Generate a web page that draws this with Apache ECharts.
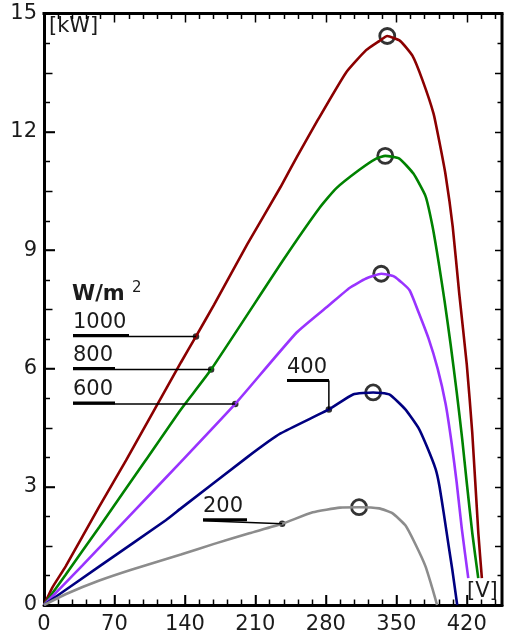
<!DOCTYPE html>
<html><head><meta charset="utf-8">
<script src="https://cdn.jsdelivr.net/npm/echarts@6/dist/echarts.min.js"></script>
<style>html,body{margin:0;padding:0;background:#fff}#c{width:505px;height:635px}</style>
</head><body><div id="c"></div>
<script>
// ---- data ----
const xTickLabels = [0, 70, 140, 210, 280, 350, 420];
const yTickLabels = [0, 3, 6, 9, 12, 15];
const irradiance = ['1000', '800', '600', '400', '200'];

const v1000 = [0, 8, 21.5, 55, 81.5, 136, 151, 169, 202, 235, 251, 272, 300, 320, 333, 341, 354, 366, 376, 387, 392.6, 399, 406, 412.5, 420, 425.5, 431.5, 435];
const p1000 = [0, 0.43, 0.98, 2.5, 3.67, 6.15, 6.81, 7.62, 9.15, 10.6, 11.35, 12.3, 13.5, 14.07, 14.3, 14.43, 14.3, 13.93, 13.31, 12.46, 11.77, 10.9, 9.6, 7.9, 6.1, 4.35, 1.82, 0.68];

const v800 = [0, 21.5, 55, 101, 136, 166, 238, 274, 290, 313, 330, 339, 353, 367, 379, 386, 392, 398, 404, 410, 415.5, 420, 425.5, 431.4];
const p800 = [0, 0.77, 1.98, 3.67, 4.96, 5.97, 8.76, 10.08, 10.56, 11.03, 11.32, 11.39, 11.32, 10.94, 10.37, 9.6, 8.7, 7.7, 6.6, 5.4, 4.2, 3.1, 1.82, 0.68];

const v600 = [0, 38, 87.6, 136, 190, 251, 284, 303.5, 320, 335, 348, 363, 372, 382, 391, 399, 405, 410, 415, 421.5];
const p600 = [0, 1.0, 2.33, 3.63, 5.1, 6.91, 7.62, 8.04, 8.28, 8.4, 8.33, 7.99, 7.43, 6.76, 6.0, 5.1, 4.1, 3.1, 1.95, 0.68];

const v400 = [0, 55, 121, 136, 202, 235, 283, 307, 327, 343, 359, 372, 380.5, 389, 392.6, 397, 402, 405.6, 410.5];
const p400 = [0, 0.98, 2.15, 2.45, 3.75, 4.35, 4.96, 5.34, 5.39, 5.34, 4.96, 4.49, 4.01, 3.45, 3.05, 2.35, 1.5, 0.9, 0];

const v200 = [0, 22, 55, 87.5, 136, 169, 204, 236.6, 267, 294, 313, 333, 346, 359, 369, 379, 385.5, 390.5];
const p200 = [0, 0.28, 0.62, 0.9, 1.28, 1.55, 1.82, 2.06, 2.35, 2.47, 2.48, 2.45, 2.33, 2.02, 1.54, 0.98, 0.45, 0];

const peakV = [341, 339, 335, 327, 313];
const peakP = [14.43, 11.39, 8.4, 5.39, 2.48];

const markV = [151, 166, 190, 283, 236.6];
const markP = [6.81, 5.97, 5.1, 4.96, 2.06];

const xMax = 455, yMax = 15;
const xMajor = 70, xMinor = 14, yMajor = 3, yMid = 1.5, yMinor = 0.75;

// ---- style ----
const colors = ['#8b0000', '#008200', '#9933ff', '#000080', '#8c8c8c'];
const FONT = 'DejaVu Sans';
const TXT = '#1b1b1b';
const gridRect = { left: 44, top: 13.5, width: 458, height: 591.5 };

const chart = echarts.init(document.getElementById('c'));

function pairs(v, p) { return v.map((x, i) => [x, p[i]]); }
const curves = [pairs(v1000, p1000), pairs(v800, p800), pairs(v600, p600), pairs(v400, p400), pairs(v200, p200)];

chart.setOption({
  animation: false,
  backgroundColor: '#fff',
  grid: [{ left: gridRect.left, top: gridRect.top, width: gridRect.width, height: gridRect.height }],
  xAxis: [{ type: 'value', min: 0, max: xMax, interval: xMajor,
    axisLine: { show: true, onZero: false, lineStyle: { color: '#000', width: 3 } },
    axisTick: { show: true, inside: true, length: 10, lineStyle: { color: '#000', width: 1.5 } },
    splitLine: { show: false },
    axisLabel: { margin: 9, color: TXT, fontSize: 21, fontFamily: FONT } }],
  yAxis: [{ type: 'value', min: 0, max: yMax, interval: yMajor,
    axisLine: { show: true, onZero: false, lineStyle: { color: '#000', width: 3 } },
    axisTick: { show: true, inside: true, length: 11, lineStyle: { color: '#000', width: 1.5 } },
    splitLine: { show: false },
    axisLabel: { margin: 7, color: TXT, fontSize: 21, fontFamily: FONT } }],
  series: curves.map((d, i) => ({
    name: irradiance[i], type: 'line', data: d, showSymbol: false, smooth: 0.15,
    lineStyle: { color: colors[i], width: 2.6 }
  })).concat([
    { type: 'scatter', data: pairs(markV, markP), symbol: 'circle', symbolSize: 6.5, itemStyle: { color: '#000' } },
    { type: 'scatter', data: pairs(peakV, peakP), symbol: 'circle', symbolSize: 15,
      itemStyle: { color: '#fff', borderColor: '#000', borderWidth: 2.8 } }
  ])
});

const els = [];
const toPx = (v, p) => chart.convertToPixel({ xAxisIndex: 0, yAxisIndex: 0 }, [v, p]);
function isMul(v, s) { return Math.abs(v / s - Math.round(v / s)) < 1e-6; }
function seg(a, b, c, d, w) {
  els.push({ type: 'line', z: 20, shape: { x1: a, y1: b, x2: c, y2: d }, style: { stroke: '#000', lineWidth: w } });
}

// ---- frame (top/right) and ticks, positions from the axis scales ----
const yBottom = gridRect.top + gridRect.height, yTop = gridRect.top;
const xLeft = gridRect.left, xRight = gridRect.left + gridRect.width;
seg(xLeft - 1.5, yTop, xRight + 1.5, yTop, 3);
seg(xRight, yTop, xRight, yBottom + 1.5, 3);
for (let k = 1; k * xMinor < xMax; k++) {
  const v = k * xMinor;
  const x = Math.round(toPx(v, 0)[0]) + 0.5;
  const major = isMul(v, xMajor);
  seg(x, yBottom, x, yBottom - (major ? 10 : 5.5), 1.5);
  seg(x, yTop, x, yTop + (major ? 9 : 5.5), 1.5);
}
for (let k = 1; k * yMinor < yMax; k++) {
  const v = k * yMinor;
  const y = Math.round(toPx(0, v)[1]) + 0.5;
  seg(xLeft, y, xLeft + (isMul(v, yMajor) ? 11 : (isMul(v, yMid) ? 8.5 : 6)), y, 1.5);
  seg(xRight, y, xRight - (isMul(v, yMid) ? 7 : 4.5), y, 1.5);
}

// ---- annotations (leader lines + labels) ----
const annLayout = [
  { textX: 73, mode: 'h', dy: 0, w: 56 },
  { textX: 73, mode: 'h', dy: 0, w: 42 },
  { textX: 73, mode: 'h', dy: 0, w: 42 },
  { textX: 287, mode: 'v', dy: -28, w: 42 },
  { textX: 203, mode: 'h', dy: -3, w: 44 }
];
irradiance.forEach((lab, i) => {
  const p = toPx(markV[i], markP[i]);
  const L = annLayout[i];
  const uy = p[1] + L.dy - 1;
  els.push({ type: 'text', x: L.textX, y: uy - 13, z: 10,
    style: { text: lab, fill: TXT, fontSize: 21, fontFamily: FONT, align: 'left', verticalAlign: 'middle' } });
  seg(L.textX, uy, L.textX + L.w, uy, 3);
  if (L.mode === 'h') {
    seg(L.textX, p[1] + (i === 4 ? L.dy : 0), p[0], p[1], 1.5);
  } else {
    seg(L.textX, uy, p[0], uy, 1.5);
    seg(p[0], uy, p[0], p[1], 1.5);
  }
});
const p0 = toPx(markV[0], markP[0]);
els.push({ type: 'text', x: 72, y: p0[1] - 42, z: 10,
  style: { text: 'W/m', fill: TXT, fontSize: 21, fontWeight: 'bold', fontFamily: FONT, align: 'left', verticalAlign: 'middle' } });
els.push({ type: 'text', x: 132, y: p0[1] - 48, z: 10,
  style: { text: '2', fill: TXT, fontSize: 15, fontFamily: FONT, align: 'left', verticalAlign: 'middle' } });
els.push({ type: 'text', x: gridRect.left + 5, y: gridRect.top + 13, z: 10,
  style: { text: '[kW]', fill: TXT, fontSize: 21, fontFamily: FONT, align: 'left', verticalAlign: 'middle' } });
els.push({ type: 'text', x: xRight - 35, y: 592, z: 10,
  style: { text: '[V]', fill: TXT, fontSize: 21, fontFamily: FONT, align: 'left', verticalAlign: 'middle' } });
chart.setOption({ graphic: { elements: els } });
</script>
</body></html>
